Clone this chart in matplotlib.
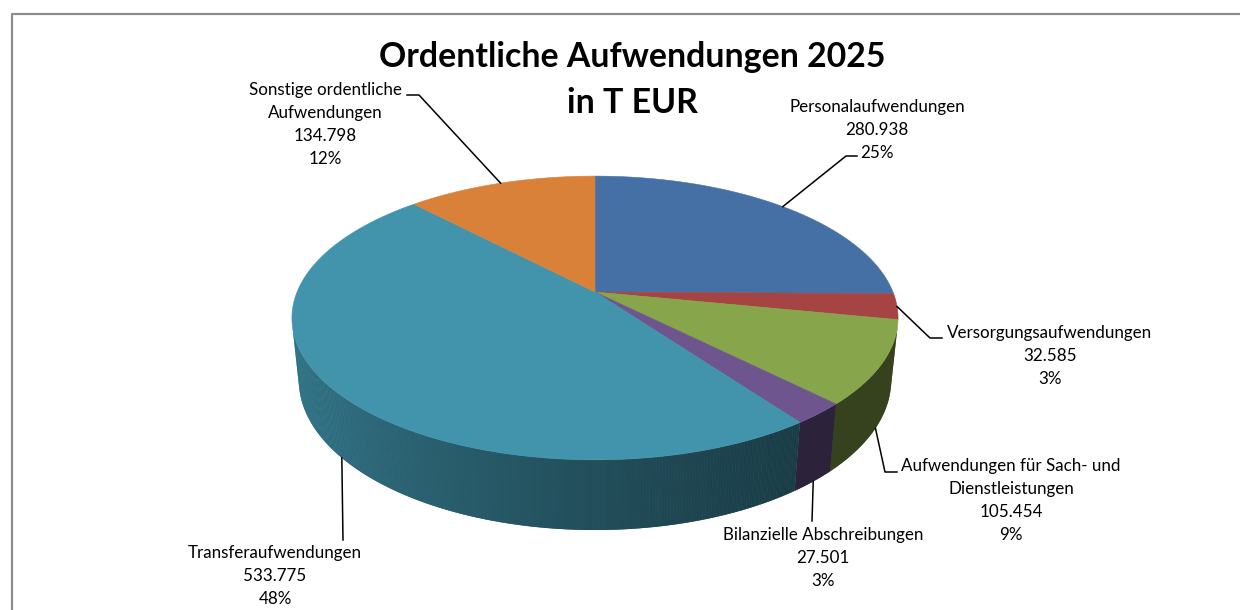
import numpy as np
import matplotlib
matplotlib.use("Agg")
import matplotlib.pyplot as plt
from matplotlib.patches import Polygon
from matplotlib.colors import to_rgb

# ---------------- data ----------------
title_lines = ["Ordentliche Aufwendungen 2025", "in T EUR"]
categories = ["Personalaufwendungen",
              "Versorgungsaufwendungen",
              "Aufwendungen für Sach- und\nDienstleistungen",
              "Bilanzielle Abschreibungen",
              "Transferaufwendungen",
              "Sonstige ordentliche\nAufwendungen"]
values = [280938, 32585, 105454, 27501, 533775, 134798]   # T EUR
colors = ["#4570A5", "#A54443", "#87A54B", "#6F558E", "#4194AC", "#D98139"]

# ---------------- layout ----------------
W, H_PX = 1240, 610
# label block centre x, first-line centre y
label_pos = [(877, 107), (1050, 333), (1011, 466), (823, 535), (275, 553), (325, 90)]
# leader waypoints after the anchor on the pie
leaders = [[(846, 156), (857, 156)],
           [(930, 338), (942, 338)],
           [(885, 472), (897, 472)],
           [(812, 521)],
           [(343, 540)],
           [(419, 95), (407, 95)]]
LINE_PITCH = 23

# 3D perspective parameters
ELEV = np.radians(27.4)
DIST = 4.85
SCALE = 1445
CX, CY = 595, 292
THICK = 0.237


def proj(phi_deg, r, z):
    phi = np.radians(phi_deg)
    X = r * np.sin(phi)
    Y = r * np.cos(phi)
    c, s = np.cos(ELEV), np.sin(ELEV)
    d = DIST + Y * c - z * s
    return CX + SCALE * X / d, CY - SCALE * (Y * s + z * c) / d


def fmt_de(v):
    return f"{v:,}".replace(",", ".")


def pct_largest_remainder(vals):
    vals = np.asarray(vals, float)
    raw = vals / vals.sum() * 100
    fl = np.floor(raw).astype(int)
    rem = raw - fl
    need = 100 - fl.sum()
    for i in np.argsort(-rem)[:need]:
        fl[i] += 1
    return fl


fig = plt.figure(figsize=(W / 100, H_PX / 100), dpi=100)
ax = fig.add_axes([0, 0, 1, 1])
ax.set_xlim(0, W)
ax.set_ylim(H_PX, 0)
ax.axis("off")

# frame
ax.plot([11.5, 11.5, W + 5], [H_PX + 5, 13.5, 13.5], color="#8c8c8c", lw=1.6,
        solid_capstyle="butt")

total = sum(values)
angles = np.cumsum([0] + [v / total * 360 for v in values])
pcts = pct_largest_remainder(values)

c = np.cos(ELEV)
phi_vis_min = np.degrees(np.arccos(-1 / (DIST * c)))
phi_vis_max = 360 - phi_vis_min


def side_factor(phi):
    t = np.clip((phi - 140) / (phi_vis_max - 140), 0, 1)
    return 0.40 + 0.50 * t ** 1.3


# sides
for i, col in enumerate(colors):
    a0, a1 = max(angles[i], phi_vis_min), min(angles[i + 1], phi_vis_max)
    if a1 <= a0:
        continue
    n = max(2, int((a1 - a0) / 0.5))
    ph = np.linspace(a0, a1, n + 1)
    base = np.array(to_rgb(col))
    # underlay for the whole wall of the slice
    under = [proj(p, 1, 0) for p in ph] + [proj(p, 1, -THICK) for p in ph[::-1]]
    uc = np.clip(base * side_factor((a0 + a1) / 2), 0, 1)
    ax.add_patch(Polygon(under, closed=True, facecolor=uc, edgecolor="none"))
    for k in range(n):
        p0, p1 = ph[k], ph[k + 1]
        pts = [proj(p0, 1, 0), proj(p1, 1, 0), proj(p1, 1, -THICK), proj(p0, 1, -THICK)]
        fc = np.clip(base * side_factor((p0 + p1) / 2), 0, 1)
        ax.add_patch(Polygon(pts, closed=True, facecolor=fc, edgecolor="none"))

# top
for i, col in enumerate(colors):
    ph = np.linspace(angles[i], angles[i + 1], max(3, int((angles[i + 1] - angles[i]) / 0.5)))
    pts = [proj(0, 0, 0)] + [proj(p, 1, 0) for p in ph]
    ax.add_patch(Polygon(pts, closed=True, facecolor=col, edgecolor=col, lw=0.4))

renderer = fig.canvas.get_renderer()


def fit_size(text, family, weight, target_w):
    t = ax.text(0, 0, text, fontsize=10, family=family, weight=weight)
    w = t.get_window_extent(renderer).width
    t.remove()
    return 10 * target_w / w


FONT = "Lato"
title_fs = fit_size(title_lines[0], FONT, "bold", 509)
ax.text(632, 57, title_lines[0], fontsize=title_fs, family=FONT, weight="bold",
        ha="center", va="center")
ax.text(632, 103, title_lines[1], fontsize=title_fs, family=FONT, weight="bold",
        ha="center", va="center")

label_fs = fit_size("Transferaufwendungen", FONT, "normal", 175)

# labels and leaders
for i, cat in enumerate(categories):
    mid = (angles[i] + angles[i + 1]) / 2
    z = -THICK if phi_vis_min < mid < phi_vis_max else 0
    ax0, ay0 = proj(mid, 1, z)
    xs = [ax0] + [p[0] for p in leaders[i]]
    ys = [ay0] + [p[1] for p in leaders[i]]
    ax.plot(xs, ys, color="black", lw=1.1)
    lines = cat.split("\n") + [fmt_de(values[i]), f"{pcts[i]}%"]
    lx, ly = label_pos[i]
    for j, ln in enumerate(lines):
        ax.text(lx, ly + j * LINE_PITCH, ln, fontsize=label_fs, family=FONT,
                ha="center", va="center", color="black")

fig.savefig("out.png", dpi=100)
